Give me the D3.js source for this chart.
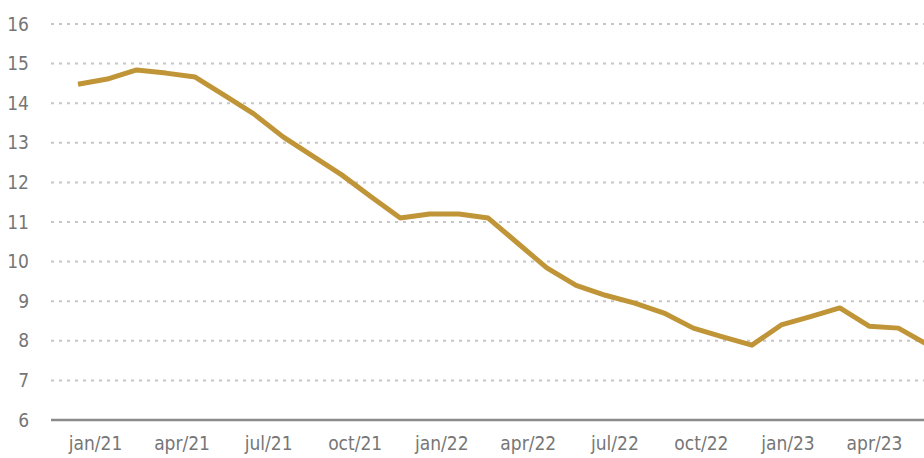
<!DOCTYPE html>
<meta charset="utf-8">
<style>
    body { margin: 0; background: #fff; }
    .tick text {
        font-family: "Liberation Sans Narrow", "DejaVu Sans Condensed", Roboto, sans-serif;
        fill: #767676;
    }
    .grid line {
        stroke: #c6c6c6;
        stroke-width: 2px;
        stroke-dasharray: 3, 5;
    }
</style>
<svg width="924" height="458"></svg>
<script src="https://d3js.org/d3.v7.min.js"></script>
<script>

    // monthly series, jan/21 .. jun/23
    var months = ["jan/21", "fev/21", "mar/21", "apr/21", "mai/21", "jun/21", "jul/21", "ago/21", "set/21",
        "oct/21", "nov/21", "dez/21", "jan/22", "fev/22", "mar/22", "apr/22", "mai/22", "jun/22",
        "jul/22", "ago/22", "set/22", "oct/22", "nov/22", "dez/22", "jan/23", "fev/23", "mar/23",
        "apr/23", "mai/23", "jun/23"];
    var values = [14.48, 14.61, 14.84, 14.76, 14.66, 14.2, 13.73, 13.15, 12.67, 12.19,
        11.64, 11.1, 11.2, 11.2, 11.1, 10.47, 9.84, 9.4, 9.15, 8.95,
        8.7, 8.32, 8.1, 7.89, 8.4, 8.61, 8.83, 8.37, 8.32, 7.9];
    var tickLabels = ["jan/21", "apr/21", "jul/21", "oct/21", "jan/22", "apr/22", "jul/22", "oct/22", "jan/23", "apr/23"];
    var yTicks = [6, 7, 8, 9, 10, 11, 12, 13, 14, 15, 16];

    var svg = d3.select("svg");

    var x = d3.scalePoint().domain(months).range([78, 78 + 29.3 * (months.length - 1)]);
    var xLabel = d3.scalePoint().domain(tickLabels).range([95, 874]);
    var y = d3.scaleLinear().domain([6, 16]).range([420, 24]);

    // dotted gridlines
    svg.append("g")
        .attr("class", "grid")
        .selectAll("line")
        .data(yTicks.slice(1))
        .enter().append("line")
        .attr("x1", 51).attr("x2", 924)
        .attr("y1", function (d) { return y(d); })
        .attr("y2", function (d) { return y(d); });

    // y labels
    var yAxis = svg.append("g")
        .attr("transform", "translate(29,0)")
        .call(d3.axisLeft(y).tickValues(yTicks).tickSize(0).tickPadding(0).tickFormat(d3.format("d")));
    yAxis.select(".domain").remove();
    yAxis.selectAll("text").style("font-size", "19px");

    // base line
    svg.append("line")
        .attr("x1", 51).attr("x2", 924)
        .attr("y1", y(6)).attr("y2", y(6))
        .attr("stroke", "#8a8a8a")
        .attr("stroke-width", 2.5);

    // x labels
    var xAxis = svg.append("g")
        .attr("transform", "translate(0," + y(6) + ")")
        .call(d3.axisBottom(xLabel).tickSize(0).tickPadding(17));
    xAxis.select(".domain").remove();
    xAxis.selectAll("text").style("font-size", "19px");

    var line = d3.line()
        .x(function (d, i) { return x(months[i]); })
        .y(function (d) { return y(d); });

    svg.append("path")
        .datum(values)
        .attr("d", line)
        .attr("fill", "none")
        .attr("stroke", "#c09538")
        .attr("stroke-width", 5)
        .attr("stroke-linejoin", "round");

</script>
